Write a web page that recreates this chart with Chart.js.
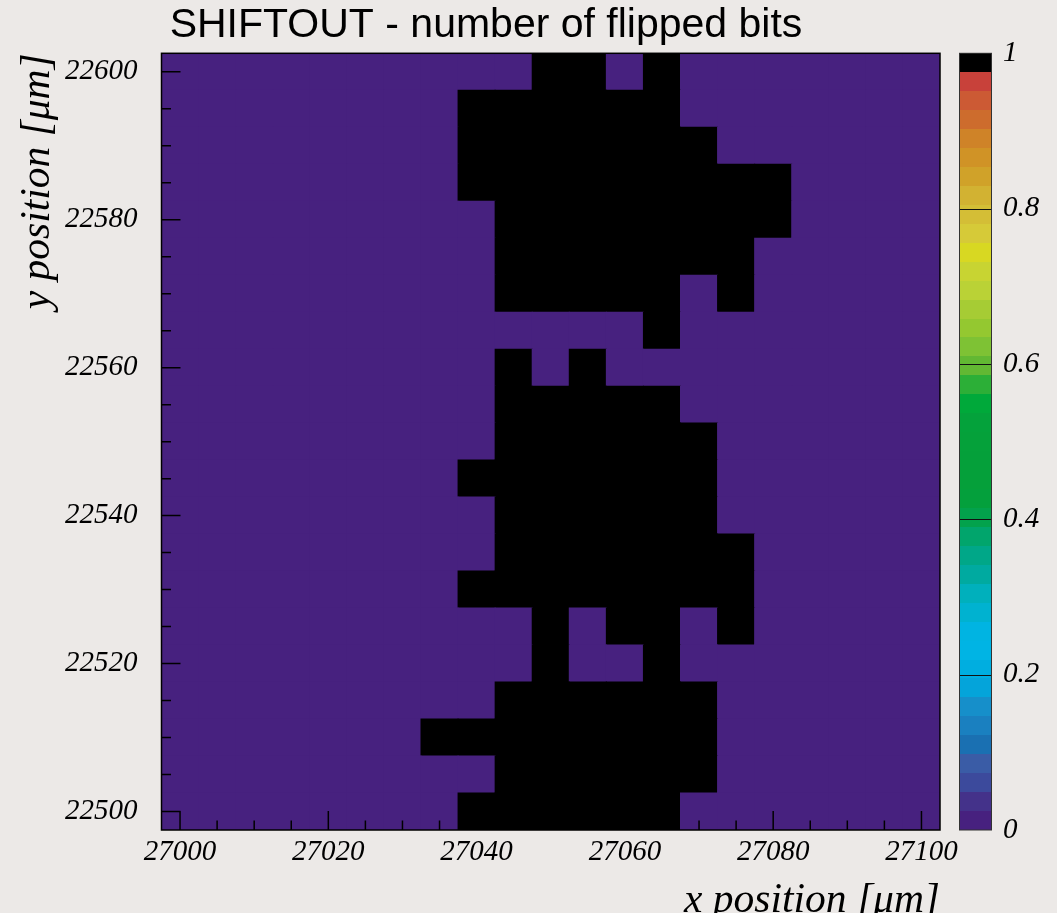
<!DOCTYPE html>
<html>
<head>
<meta charset="utf-8">
<script src="https://cdn.jsdelivr.net/npm/chart.js@4.4.1/dist/chart.umd.min.js"></script>
<style>
  html, body { margin: 0; padding: 0; background: #ECE9E7; }
  canvas { display: block; }
</style>
</head>
<body>
<canvas id="map" width="1057" height="913"></canvas>
<script>
// Pixel bin centres in µm (5 µm pitch)
const binWidth = 5;
const xCenters = [27000, 27005, 27010, 27015, 27020, 27025, 27030, 27035, 27040, 27045, 27050,
                  27055, 27060, 27065, 27070, 27075, 27080, 27085, 27090, 27095, 27100];
// rows are listed from the top of the map downwards
const yCenters = [22600, 22595, 22590, 22585, 22580, 22575, 22570, 22565, 22560, 22555, 22550,
                  22545, 22540, 22535, 22530, 22525, 22520, 22515, 22510, 22505, 22500];

// number of flipped bits per pixel, one row per yCenters entry
const flippedBits = [
  [0,0,0,0,0,0,0,0,0,0,1,1,0,1,0,0,0,0,0,0,0],
  [0,0,0,0,0,0,0,0,1,1,1,1,1,1,0,0,0,0,0,0,0],
  [0,0,0,0,0,0,0,0,1,1,1,1,1,1,1,0,0,0,0,0,0],
  [0,0,0,0,0,0,0,0,1,1,1,1,1,1,1,1,1,0,0,0,0],
  [0,0,0,0,0,0,0,0,0,1,1,1,1,1,1,1,1,0,0,0,0],
  [0,0,0,0,0,0,0,0,0,1,1,1,1,1,1,1,0,0,0,0,0],
  [0,0,0,0,0,0,0,0,0,1,1,1,1,1,0,1,0,0,0,0,0],
  [0,0,0,0,0,0,0,0,0,0,0,0,0,1,0,0,0,0,0,0,0],
  [0,0,0,0,0,0,0,0,0,1,0,1,0,0,0,0,0,0,0,0,0],
  [0,0,0,0,0,0,0,0,0,1,1,1,1,1,0,0,0,0,0,0,0],
  [0,0,0,0,0,0,0,0,0,1,1,1,1,1,1,0,0,0,0,0,0],
  [0,0,0,0,0,0,0,0,1,1,1,1,1,1,1,0,0,0,0,0,0],
  [0,0,0,0,0,0,0,0,0,1,1,1,1,1,1,0,0,0,0,0,0],
  [0,0,0,0,0,0,0,0,0,1,1,1,1,1,1,1,0,0,0,0,0],
  [0,0,0,0,0,0,0,0,1,1,1,1,1,1,1,1,0,0,0,0,0],
  [0,0,0,0,0,0,0,0,0,0,1,0,1,1,0,1,0,0,0,0,0],
  [0,0,0,0,0,0,0,0,0,0,1,0,0,1,0,0,0,0,0,0,0],
  [0,0,0,0,0,0,0,0,0,1,1,1,1,1,1,0,0,0,0,0,0],
  [0,0,0,0,0,0,0,1,1,1,1,1,1,1,1,0,0,0,0,0,0],
  [0,0,0,0,0,0,0,0,0,1,1,1,1,1,1,0,0,0,0,0,0],
  [0,0,0,0,0,0,0,0,1,1,1,1,1,1,0,0,0,0,0,0,0]
];

// labelled (major) ticks
const xTickLabels = [27000, 27020, 27040, 27060, 27080, 27100];
const yTickLabels = [22500, 22520, 22540, 22560, 22580, 22600];
const zTickLabels = [0, 0.2, 0.4, 0.6, 0.8, 1];

const titleText = 'SHIFTOUT - number of flipped bits';

// colour palette, lowest level first
const paletteColors = [
  '#47217F', '#44328A', '#3C4A9C', '#3A5CA6', '#1A70B2', '#1A80C0', '#168FCA', '#04A4DA',
  '#00AEE0', '#00B4E4', '#00B4E2', '#00B2D0', '#00B0BC', '#00AAA0', '#00A788', '#01A56C',
  '#03A24C', '#04A03C', '#05A03A', '#05A03A', '#05A13A', '#04A23B', '#00A93A', '#2CAF37',
  '#62B833', '#7EC234', '#94C830', '#A6CC34', '#BAD236', '#C8D432', '#D8D822', '#D6CA38',
  '#D4BE36', '#D2B232', '#D0A229', '#D09326', '#CF8328', '#CD6C2D', '#CC5A34', '#C8413A',
  '#000000'
];

const colorFor = v => paletteColors[Math.min(paletteColors.length - 1, Math.floor(v * paletteColors.length))];

const cells = [];
yCenters.forEach((yv, r) => {
  xCenters.forEach((xv, c) => cells.push({ x: xv, y: yv, v: flippedBits[r][c] }));
});

// half-diagonal of one bin square, so a 'rect' point fills the bin
const cellRadius = c => {
  const s = c.chart.scales.x;
  const w = Math.abs(s.getPixelForValue(xCenters[0] + binWidth) - s.getPixelForValue(xCenters[0]));
  return (w + 1) * Math.SQRT1_2;
};

const serif = 'Liberation Serif, DejaVu Serif, serif';
const labelFont = { family: serif, style: 'italic', size: 29, lineHeight: 1.2 };

// pad title, frame, inward tick marks and the colour scale
const padDecor = {
  id: 'padDecor',
  beforeDatasetsDraw(chart) {
    const { ctx, chartArea: a } = chart;
    ctx.save();
    ctx.fillStyle = colorFor(0);
    ctx.fillRect(a.left, a.top, a.right - a.left, a.bottom - a.top);
    ctx.restore();
  },
  afterDatasetsDraw(chart) {
    const { ctx, chartArea: a, scales: { x, y, z } } = chart;
    ctx.save();
    ctx.strokeStyle = '#000';
    ctx.lineWidth = 1.5;
    ctx.beginPath();
    x.ticks.forEach(t => {
      const px = x.getPixelForValue(t.value);
      const len = xTickLabels.includes(t.value) ? 19 : 9.5;
      ctx.moveTo(px, a.bottom);
      ctx.lineTo(px, a.bottom - len);
    });
    y.ticks.forEach(t => {
      const py = y.getPixelForValue(t.value);
      const len = yTickLabels.includes(t.value) ? 19 : 9.5;
      ctx.moveTo(a.left, py);
      ctx.lineTo(a.left + len, py);
    });
    ctx.stroke();
    ctx.strokeRect(a.left, a.top, a.right - a.left, a.bottom - a.top);

    // colour scale
    const bx = a.right + 19, bw = 33;
    const n = paletteColors.length;
    paletteColors.forEach((c, k) => {
      const y0 = Math.round(z.getPixelForValue(k / n));
      const y1 = Math.round(z.getPixelForValue((k + 1) / n));
      ctx.fillStyle = c;
      ctx.fillRect(bx, y1, bw, y0 - y1);
    });
    ctx.lineWidth = 1;
    ctx.strokeStyle = '#111';
    ctx.beginPath();
    zTickLabels.slice(1, -1).forEach(v => {
      const py = Math.round(z.getPixelForValue(v)) + 0.5;
      ctx.moveTo(bx, py);
      ctx.lineTo(bx + bw, py);
    });
    ctx.stroke();
    ctx.strokeStyle = '#333';
    ctx.strokeRect(bx + 0.5, z.getPixelForValue(1), bw - 1, z.getPixelForValue(0) - z.getPixelForValue(1));

    // pad title
    ctx.fillStyle = '#000';
    ctx.font = 'normal 41px "Liberation Sans", Arial, sans-serif';
    ctx.textAlign = 'center';
    ctx.textBaseline = 'alphabetic';
    ctx.fillText(titleText, 486, 36.7);
    ctx.restore();
  }
};

new Chart(document.getElementById('map'), {
  type: 'scatter',
  data: {
    datasets: [{
      data: cells,
      pointStyle: 'rect',
      pointBorderWidth: 0,
      pointBackgroundColor: c => colorFor(c.raw.v),
      pointRadius: cellRadius,
      pointHoverRadius: cellRadius
    }]
  },
  options: {
    responsive: false,
    devicePixelRatio: 1,
    animation: false,
    events: [],
    layout: { padding: { left: 0, right: 0, top: 53.3, bottom: 0 } },
    plugins: {
      legend: { display: false },
      tooltip: { enabled: false },
      title: { display: false }
    },
    scales: {
      x: {
        type: 'linear',
        position: 'bottom',
        bounds: 'data',
        min: xCenters[0] - binWidth / 2,
        max: xCenters[xCenters.length - 1] + binWidth / 2,
        afterBuildTicks: s => { s.ticks = xCenters.map(v => ({ value: v })); },
        afterFit: s => { s.height = 83; },
        grid: { display: false, drawTicks: false },
        border: { display: false },
        ticks: {
          autoSkip: false, maxRotation: 0, minRotation: 0, padding: 5, color: '#000',
          font: labelFont,
          callback: v => xTickLabels.includes(v) ? String(v) : ''
        },
        title: {
          display: true, text: 'x position [\u03BCm]', align: 'end', color: '#000',
          font: { family: serif, style: 'italic', size: 41.5, lineHeight: 0.58 },
          padding: { top: 0, bottom: 0 }
        }
      },
      y: {
        type: 'linear',
        position: 'left',
        bounds: 'data',
        min: yCenters[yCenters.length - 1] - binWidth / 2,
        max: yCenters[0] + binWidth / 2,
        afterBuildTicks: s => { s.ticks = yCenters.slice().reverse().map(v => ({ value: v })); },
        afterFit: s => { s.width = 161.5; },
        grid: { display: false, drawTicks: false },
        border: { display: false },
        ticks: {
          autoSkip: false, padding: 24, color: '#000',
          font: labelFont,
          callback: v => yTickLabels.includes(v) ? String(v) : ''
        },
        title: {
          display: true, text: 'y position [\u03BCm]', align: 'end', color: '#000',
          font: { family: serif, style: 'italic', size: 41.5, lineHeight: 1.2 },
          padding: { top: 13, bottom: 0 }
        }
      },
      z: {
        type: 'linear',
        position: 'right',
        bounds: 'data',
        min: 0,
        max: 1,
        afterBuildTicks: s => { s.ticks = zTickLabels.map(v => ({ value: v })); },
        afterFit: s => { s.width = 117; },
        // invisible tick marks push the labels clear of the colour scale
        grid: { display: true, drawOnChartArea: false, drawTicks: true, tickLength: 60, tickColor: 'rgba(0,0,0,0)' },
        border: { display: false },
        ticks: {
          autoSkip: false, padding: 3, color: '#000',
          font: labelFont,
          callback: v => String(+v.toFixed(1))
        }
      }
    }
  },
  plugins: [padDecor]
});
</script>
</body>
</html>
